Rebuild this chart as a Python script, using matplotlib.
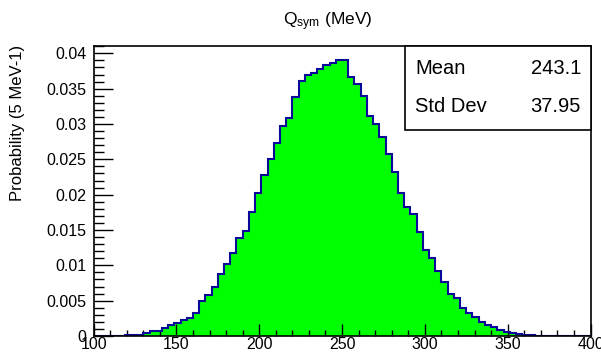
import numpy as np
import matplotlib
matplotlib.use("Agg")
import matplotlib.pyplot as plt
from matplotlib.patches import Rectangle
from matplotlib.ticker import MultipleLocator, FormatStrFormatter

plt.rcParams["font.family"] = ["Liberation Sans", "DejaVu Sans"]
plt.rcParams["mathtext.default"] = "regular"

# Q_sym histogram: 80 bins of 3.75 MeV between 100 and 400
edge_lo, edge_hi, n_bins = 100.0, 400.0, 80
probability = [
    0, 0, 0, 0, 0,
    0.00015, 0.00015, 0.00015, 0.0004, 0.0007,
    0.00075, 0.0012, 0.0015, 0.0018, 0.0023,
    0.0026, 0.0033, 0.0050, 0.0058, 0.0069,
    0.0088, 0.0102, 0.0117, 0.0138, 0.0149,
    0.0176, 0.0203, 0.0228, 0.0251, 0.0273,
    0.0297, 0.0308, 0.0338, 0.0361, 0.0369,
    0.0372, 0.0378, 0.0383, 0.0387, 0.0390,
    0.0390, 0.0367, 0.0357, 0.0340, 0.0311,
    0.0300, 0.0281, 0.0258, 0.0232, 0.0203,
    0.0183, 0.0172, 0.0147, 0.0122, 0.0110,
    0.0092, 0.0077, 0.0060, 0.0054, 0.0039,
    0.0033, 0.0027, 0.0020, 0.0016, 0.0013,
    0.00085, 0.0006, 0.0004, 0.0003, 0.00015,
    0.00015, 0, 0, 0, 0,
    0, 0, 0, 0, 0,
]
stat_names = ["Mean", "Std Dev"]
stat_values = ["243.1", "37.95"]

edges = np.linspace(edge_lo, edge_hi, n_bins + 1)

W, H = 601, 352
fig = plt.figure(figsize=(W / 100, H / 100), dpi=100)
ax = fig.add_axes([93.6 / W, 16 / H, (590.5 - 93.6) / W, 290 / H])

ax.stairs(probability, edges, fill=True, color="#00ff00", zorder=1)
ax.stairs(probability, edges, baseline=0, color="#0a0a9a", lw=1.5, zorder=2)

ax.set_xlim(edge_lo, edge_hi)
ax.set_ylim(0, 0.04104)

ax.xaxis.set_major_locator(MultipleLocator(50))
ax.xaxis.set_minor_locator(MultipleLocator(10))
ax.yaxis.set_major_locator(MultipleLocator(0.005))
ax.yaxis.set_minor_locator(MultipleLocator(0.001))
ax.yaxis.set_major_formatter(FormatStrFormatter("%g"))

ax.tick_params(axis="both", which="both", direction="in", top=False, right=False,
               labelsize=11.5, width=1, color="black")
ax.tick_params(axis="x", which="major", length=9, pad=1)
ax.tick_params(axis="x", which="minor", length=4.5)
ax.tick_params(axis="y", which="major", length=14, pad=5)
ax.tick_params(axis="y", which="minor", length=7)
for s in ax.spines.values():
    s.set_linewidth(1.2)

fig.text(328 / W, 1 - 22 / H, r"Q$_{sym}$ (MeV)", ha="center", va="center", fontsize=12.5)
fig.text(18 / W, 1 - 45 / H, "Probability (5 MeV-1)", rotation=90,
         ha="center", va="top", fontsize=12)

# stats box in the top-right corner
box = Rectangle((405 / W, 1 - 130 / H), (590.5 - 405) / W, (130 - 46) / H,
                transform=fig.transFigure, facecolor="white", edgecolor="black",
                lw=1.2, zorder=5)
fig.patches.append(box)
for i, (name, val) in enumerate(zip(stat_names, stat_values)):
    y = 1 - (69 + 38 * i) / H
    fig.text(415 / W, y, name, ha="left", va="center", fontsize=14.5, zorder=6)
    fig.text(581 / W, y, val, ha="right", va="center", fontsize=14.5, zorder=6)

fig.savefig("out.png", dpi=100)
